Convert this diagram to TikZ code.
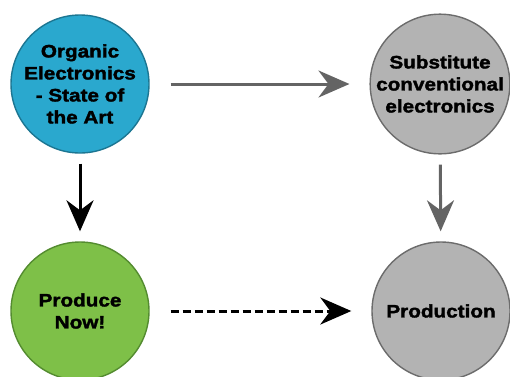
\documentclass[tikz,border=0pt]{standalone}
\usepackage{fontspec}
\setmainfont{Liberation Sans}[BoldFeatures={FakeBold=2,FakeStretch=1.15}]
\usetikzlibrary{arrows.meta}

\definecolor{blobblue}{RGB}{42,168,206}
\definecolor{blobblueline}{RGB}{28,118,146}
\definecolor{blobgreen}{RGB}{126,192,72}
\definecolor{blobgreenline}{RGB}{84,140,48}
\definecolor{blobgray}{RGB}{179,179,179}
\definecolor{blobgrayline}{RGB}{108,108,108}
\definecolor{arrowgray}{RGB}{100,100,100}

\tikzset{
  blob/.style={circle, minimum size=138pt, inner sep=0pt, line width=1.4pt,
    align=center, font=\bfseries\fontsize{18}{22}\selectfont},
  bigarrow/.style={line width=3pt, -{Stealth[length=31pt,width=27pt,inset=10pt]}}
}

\begin{document}
\begin{tikzpicture}[x=1pt,y=-1pt]

% Fix the frame
\useasboundingbox (0,0) rectangle (510,376);

% Circles
\node[blob, fill=blobblue, draw=blobblueline] (organic) at (80,84)
  {Organic\\Electronics\\- State of\\the Art};
\node[blob, fill=blobgray, draw=blobgrayline] (substitute) at (440,84)
  {Substitute\\conventional\\electronics};
\node[blob, fill=blobgreen, draw=blobgreenline] (produce) at (80,311)
  {Produce\\Now!};
\node[blob, fill=blobgray, draw=blobgrayline] (production) at (441,311)
  {Production};

% Arrows
\draw[bigarrow, arrowgray, shorten <=21pt, shorten >=20pt] (organic) -- (substitute);
\draw[bigarrow, black, shorten <=10pt, shorten >=10pt] (organic) -- (produce);
\draw[bigarrow, arrowgray, shorten <=10pt, shorten >=10pt] (substitute) -- (production);
\draw[bigarrow, black, dash pattern=on 8pt off 4pt, shorten <=21pt, shorten >=20pt] (produce) -- (production);

\end{tikzpicture}
\end{document}
